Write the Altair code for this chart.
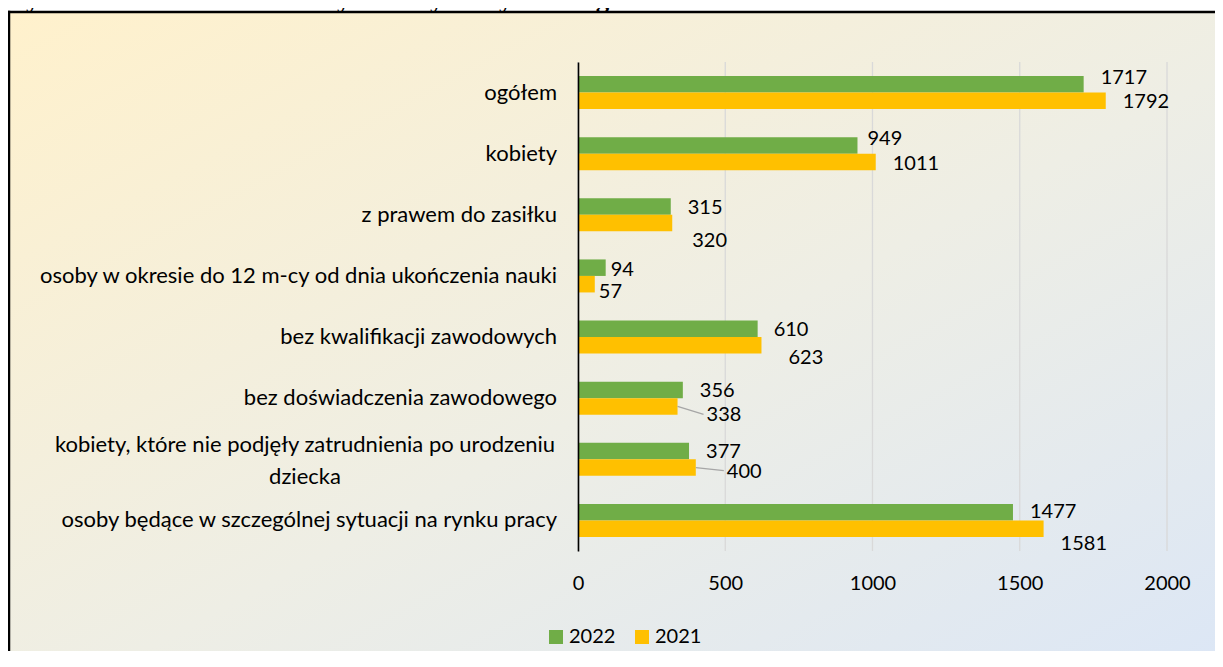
import altair as alt
import pandas as pd

# ---- data ----
categories = [
    "ogółem",
    "kobiety",
    "z prawem do zasiłku",
    "osoby w okresie do 12 m-cy od dnia ukończenia nauki",
    "bez kwalifikacji zawodowych",
    "bez doświadczenia zawodowego",
    "kobiety, które nie podjęły zatrudnienia po urodzeniu dziecka",
    "osoby będące w szczególnej sytuacji na rynku pracy",
]
values_2022 = [1717, 949, 315, 94, 610, 356, 377, 1477]
values_2021 = [1792, 1011, 320, 57, 623, 338, 400, 1581]
series = ["2022", "2021"]
series_colors = ["#70AD47", "#FFC000"]
x_ticks = [0, 500, 1000, 1500, 2000]
title_text = "Wykres 12. Liczba bezrobotnych w wybranych kategoriach w końcu 2021 i 2022r."

# data-label nudges (pixels) mimicking the source's manual label placement
label_dx_2022 = [17, 10, 17, 5, 16, 17, 17, 17]
label_dy_2022 = [-6, -6, 1, 2, 1, 1, 1, 0]
label_dx_2021 = [17, 17, 20, 4, 27, 29, 31, 17]
label_dy_2021 = [1, 2, 18, 8, 13, 9, 4, 15]
leader_2021 = [0, 0, 0, 0, 0, 1, 1, 0]


def wrap(s, limit=55):
    if len(s) <= limit:
        return s
    cut = s.rfind(" ", 0, limit)
    return s[:cut] + "\n" + s[cut + 1:]


rows = []
for i, c in enumerate(categories):
    rows.append(dict(kat=c, series="2022", value=values_2022[i],
                     ldx=label_dx_2022[i], ldy=label_dy_2022[i], lead=0))
    rows.append(dict(kat=c, series="2021", value=values_2021[i],
                     ldx=label_dx_2021[i], ldy=label_dy_2021[i], lead=leader_2021[i]))
df = pd.DataFrame(rows)

cat_df = pd.DataFrame({"kat": categories, "disp": [wrap(c) for c in categories]})
cat_df["multi"] = cat_df["disp"].str.contains("\n")

FONT = "Lato"
FS = 20      # numbers
FS_CAT = 22  # category labels

y_enc = alt.Y("kat:N", sort=categories,
              scale=alt.Scale(paddingInner=0.46, paddingOuter=0.23),
              axis=alt.Axis(labels=False, ticks=False, grid=False, title=None,
                            domainColor="black", domainWidth=1.6, zindex=1))
yoff_enc = alt.YOffset("series:N", sort=series,
                       scale=alt.Scale(paddingInner=0, paddingOuter=0))
x_enc = alt.X("value:Q", scale=alt.Scale(domain=[0, 2000], nice=False),
              axis=alt.Axis(values=x_ticks, format="d", grid=False, domain=False,
                            ticks=False, tickSize=0, labelFont=FONT, labelFontSize=FS,
                            labelColor="black", labelPadding=22, title=None,
                            labelFlush=False, labelOverlap=False, zindex=1))

gradient = {
    "gradient": "linear", "x1": 0, "y1": 0, "x2": 1, "y2": 1,
    "stops": [
        {"offset": 0, "color": "#FFF1CC"},
        {"offset": 0.5, "color": "#EEEEE5"},
        {"offset": 1, "color": "#D8E5F9"},
    ],
}

one = alt.Data(values=[{"k": 1}])

bg = alt.Chart(one).mark_rect(fill=gradient, strokeWidth=0).encode(
    x=alt.value(-569), x2=alt.value(760), y=alt.value(-50), y2=alt.value(660))

border_left = alt.Chart(one).mark_rule(color="black", strokeWidth=2.5).encode(
    x=alt.value(-569), y=alt.value(-51.2), y2=alt.value(700))
border_top = alt.Chart(one).mark_rule(color="black", strokeWidth=2.5).encode(
    x=alt.value(-570.2), x2=alt.value(1000), y=alt.value(-50))

title = alt.Chart(alt.Data(values=[{"t": title_text}])).mark_text(
    font="Liberation Serif", fontWeight="bold", fontSize=27,
    align="left", baseline="alphabetic", color="black"
).encode(text="t:N", x=alt.value(-578), y=alt.value(-55))

grid = alt.Chart(alt.Data(values=[{"v": v} for v in x_ticks])).mark_rule(
    color="#D9D9D9", strokeWidth=1.3
).encode(x=alt.X("v:Q"))

bars = alt.Chart(df).mark_bar().encode(
    y=y_enc, x=x_enc, yOffset=yoff_enc,
    color=alt.Color("series:N", sort=series,
                    scale=alt.Scale(domain=series, range=series_colors),
                    legend=alt.Legend(orient="none", legendX=-32, legendY=565,
                                      direction="horizontal", title=None,
                                      symbolType="square", symbolSize=196,
                                      symbolStrokeWidth=0, labelFont=FONT,
                                      labelFontSize=FS, labelColor="black",
                                      labelOffset=3, columnPadding=16, padding=0)),
)

leaders = alt.Chart(df).transform_filter("datum.lead == 1").mark_rule(
    color="#A6A6A6", strokeWidth=1.3
).encode(
    y=alt.Y("kat:N", sort=categories), yOffset=alt.YOffset("series:N", sort=series),
    x=alt.X("value:Q"),
    x2=alt.value({"expr": "scale('x', datum.value) + datum.ldx - 3"}),
    y2=alt.value({"expr": "scale('y', datum.kat) + scale('yOffset', datum.series)"
                          " + bandwidth('yOffset') / 2 + datum.ldy - 1"}),
)

labels = alt.Chart(df).mark_text(
    align="left", baseline="middle", font=FONT, fontSize=FS, color="black",
    dx=alt.ExprRef("datum.ldx"), dy=alt.ExprRef("datum.ldy"),
).encode(y=alt.Y("kat:N", sort=categories), yOffset=alt.YOffset("series:N", sort=series),
         x=alt.X("value:Q"), text=alt.Text("value:Q", format="d"))

cat_single = alt.Chart(cat_df).transform_filter("!datum.multi").mark_text(
    align="right", baseline="middle", font=FONT, fontSize=FS_CAT, color="black"
).encode(y=alt.Y("kat:N", sort=categories), x=alt.value(-21), text="disp:N")

cat_multi = alt.Chart(cat_df).transform_filter("datum.multi").mark_text(
    align="center", baseline="middle", font=FONT, fontSize=FS_CAT, color="black",
    lineBreak="\n", lineHeight=32, dy=-14,
).encode(y=alt.Y("kat:N", sort=categories), x=alt.value(-273), text="disp:N")

chart = alt.layer(bg, border_left, border_top, title, grid, bars, leaders, labels,
                  cat_single, cat_multi).properties(
    width=589, height=489,
    padding={"left": 570, "top": 54, "right": 48, "bottom": 100},
    autosize="none",
).configure_view(stroke=None).configure(background="white")

chart.save("out.html", embed_options={"renderer": "svg", "actions": False})
